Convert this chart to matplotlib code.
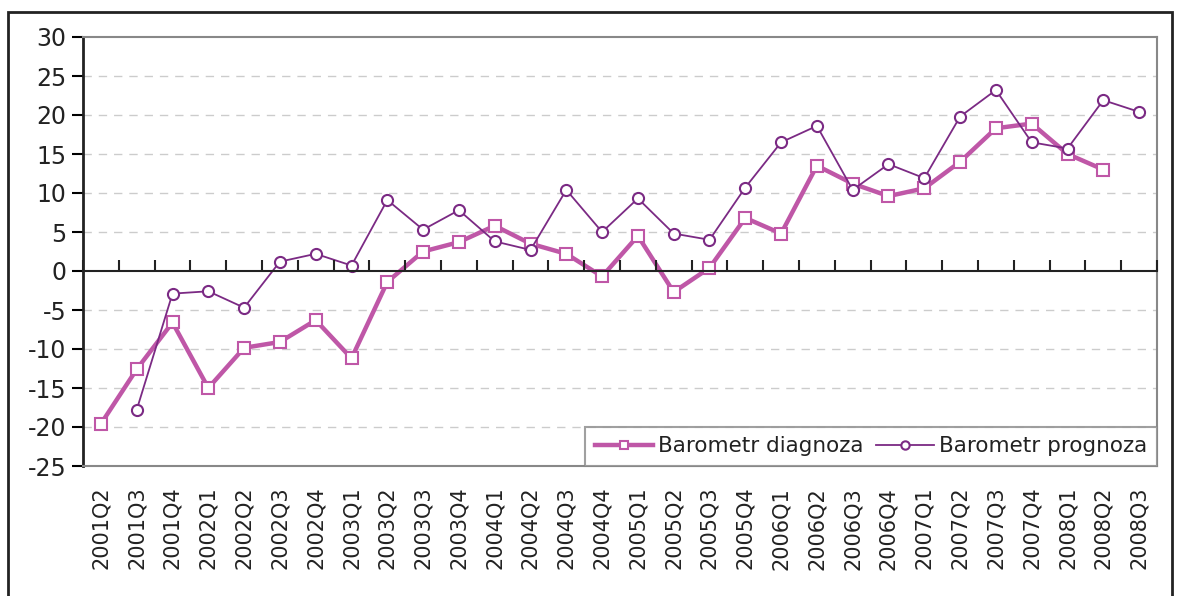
import numpy as np
import matplotlib.pyplot as plt
from matplotlib.patches import Rectangle

plt.rcParams['axes.unicode_minus'] = False

# dane
kwartaly = ['2001Q2', '2001Q3', '2001Q4', '2002Q1', '2002Q2', '2002Q3', '2002Q4',
            '2003Q1', '2003Q2', '2003Q3', '2003Q4', '2004Q1', '2004Q2', '2004Q3',
            '2004Q4', '2005Q1', '2005Q2', '2005Q3', '2005Q4', '2006Q1', '2006Q2',
            '2006Q3', '2006Q4', '2007Q1', '2007Q2', '2007Q3', '2007Q4', '2008Q1',
            '2008Q2', '2008Q3']

diagnoza = [-19.6, -12.6, -6.6, -15.0, -9.85, -9.1, -6.3, -11.2, -1.4, 2.5,
            3.7, 5.8, 3.5, 2.2, -0.7, 4.5, -2.7, 0.4, 6.8, 4.8,
            13.5, 11.2, 9.6, 10.6, 14.0, 18.3, 18.9, 15.0, 13.0, np.nan]

prognoza = [np.nan, -17.8, -2.9, -2.6, -4.7, 1.2, 2.2, 0.7, 9.1, 5.3,
            7.8, 3.8, 2.7, 10.4, 5.0, 9.3, 4.8, 4.0, 10.7, 16.5,
            18.6, 10.4, 13.7, 11.9, 19.8, 23.2, 16.5, 15.7, 21.9, 20.4]

kolor_diag = '#BF57A7'
kolor_prog = '#7B2A84'

x = np.arange(len(kwartaly))

fig = plt.figure(figsize=(11.8, 5.96), dpi=100)
ax = fig.add_axes([83/1180, 1-466/596, (1157-83)/1180, (466-37)/596])

# ramka wokol calego wykresu
fig.patches.append(Rectangle((8/1180, -0.05), (1172-8)/1180, 1.05-12/596,
                             transform=fig.transFigure, fill=False,
                             edgecolor='#222222', linewidth=2))

for v in range(-20, 30, 5):
    if v != 0:
        ax.axhline(v, color='#cccccc', linewidth=1, linestyle=(0, (6, 5)), zorder=0)

ax.plot(x, diagnoza, color=kolor_diag, linewidth=3.2, marker='s', markersize=8,
        markerfacecolor='white', markeredgecolor=kolor_diag, markeredgewidth=1.5,
        label='Barometr diagnoza', zorder=3)
ax.plot(x, prognoza, color=kolor_prog, linewidth=1.3, marker='o', markersize=8,
        markerfacecolor='white', markeredgecolor=kolor_prog, markeredgewidth=1.5,
        label='Barometr prognoza', zorder=4)

ax.set_xlim(-0.5, len(kwartaly) - 0.5)
ax.set_ylim(-25, 30)
ax.set_yticks(range(-25, 31, 5))
ax.set_xticks(x)
ax.set_xticklabels(kwartaly, rotation=90)
ax.tick_params(axis='x', length=0, pad=15, labelsize=15, labelcolor='#222222')
ax.tick_params(axis='y', length=8, width=1.5, direction='out', pad=4,
               labelsize=17, labelcolor='#222222')

for s in ['top', 'right', 'bottom']:
    ax.spines[s].set_color('#888888')
    ax.spines[s].set_linewidth(1.5)
ax.spines['left'].set_color('#222222')
ax.spines['left'].set_linewidth(2)

# os zero z kreskami
ax0 = ax.twiny()
ax0.set_xlim(ax.get_xlim())
ax0.xaxis.set_ticks_position('bottom')
ax0.spines['bottom'].set_position(('data', 0))
ax0.spines['bottom'].set_color('#222222')
ax0.spines['bottom'].set_linewidth(1.5)
for s in ['top', 'right', 'left']:
    ax0.spines[s].set_visible(False)
ax0.set_xticks(np.arange(len(kwartaly) + 1) - 0.5)
ax0.tick_params(axis='x', direction='in', length=8, width=1.5, color='#222222',
                labelbottom=False, labeltop=False)

leg = ax.legend(loc='lower right', ncol=2, fontsize=15.5, frameon=True, fancybox=False,
                borderaxespad=0, handlelength=2.7, columnspacing=0.55, handletextpad=0.25,
                borderpad=0.45)
leg.get_frame().set_edgecolor('#888888')
leg.get_frame().set_linewidth(1.5)
for t in leg.get_texts():
    t.set_color('#222222')
for h in leg.legend_handles:
    h.set_markersize(6)

fig.savefig('out.png', dpi=100)
